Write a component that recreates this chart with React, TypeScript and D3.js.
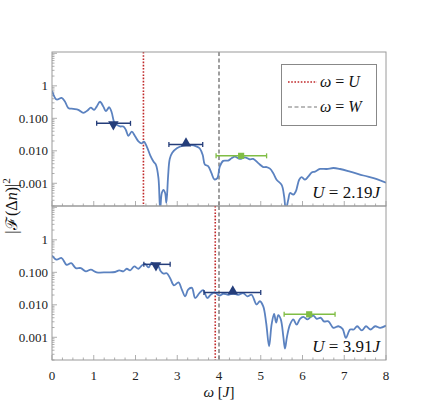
import React, { useEffect, useRef } from "react";
import * as d3 from "d3";

// omega values (in units of J) and log10 |F(dn)|^2
const topOmega = [0, 0.11, 0.23, 0.31, 0.39, 0.51, 0.63, 0.75, 0.85, 0.93, 1.01, 1.07, 1.15, 1.23, 1.29, 1.37, 1.43, 1.49, 1.55, 1.63, 1.71, 1.77, 1.83, 1.91, 1.99, 2.07, 2.15, 2.2, 2.27, 2.35, 2.43, 2.49, 2.55, 2.59, 2.63, 2.67, 2.71, 2.74, 2.78, 2.82, 2.88, 2.99, 3.14, 3.31, 3.47, 3.54, 3.61, 3.66, 3.74, 3.82, 3.89, 3.96, 4.02, 4.1, 4.22, 4.3, 4.38, 4.5, 4.62, 4.73, 4.82, 4.94, 5.06, 5.14, 5.22, 5.3, 5.38, 5.5, 5.56, 5.6, 5.66, 5.7, 5.78, 5.84, 5.92, 5.98, 6.06, 6.14, 6.22, 6.3, 6.42, 6.58, 6.74, 6.9, 7.14, 7.46, 7.78, 8.0];
const topLog = [-0.15, -0.42, -0.37, -0.48, -0.68, -0.71, -0.74, -0.83, -0.76, -0.67, -0.74, -0.64, -0.49, -0.64, -0.78, -0.66, -0.82, -1.12, -1.2, -1.25, -1.25, -1.36, -1.54, -1.41, -1.55, -1.71, -1.77, -1.72, -1.87, -2.13, -2.33, -2.43, -2.84, -3.8, -3.3, -3.2, -3.3, -3.6, -2.8, -2.25, -2.06, -1.92, -1.84, -1.82, -1.87, -1.93, -2.13, -2.42, -2.47, -2.69, -2.88, -2.84, -2.48, -2.31, -2.3, -2.23, -2.18, -2.25, -2.2, -2.26, -2.25, -2.38, -2.5, -2.5, -2.55, -2.69, -2.89, -3.05, -3.4, -3.8, -3.5, -3.3, -3.35, -3.25, -2.89, -2.81, -2.89, -2.79, -2.67, -2.64, -2.56, -2.56, -2.53, -2.56, -2.64, -2.76, -2.87, -2.98];

const bottomOmega = [0, 0.11, 0.23, 0.35, 0.46, 0.57, 0.69, 0.81, 0.93, 1.07, 1.31, 1.51, 1.61, 1.71, 1.79, 1.87, 1.97, 2.07, 2.15, 2.23, 2.31, 2.39, 2.47, 2.55, 2.6, 2.67, 2.75, 2.83, 2.92, 3.03, 3.11, 3.19, 3.26, 3.35, 3.43, 3.53, 3.62, 3.72, 3.8, 3.9, 4.01, 4.1, 4.22, 4.34, 4.46, 4.58, 4.68, 4.78, 4.9, 4.98, 5.06, 5.13, 5.2, 5.26, 5.32, 5.37, 5.42, 5.48, 5.54, 5.58, 5.63, 5.7, 5.78, 5.86, 5.94, 6.02, 6.12, 6.2, 6.26, 6.34, 6.44, 6.51, 6.62, 6.74, 6.86, 6.96, 7.04, 7.14, 7.23, 7.31, 7.42, 7.52, 7.63, 7.74, 7.86, 8.0];
const bottomLog = [-0.48, -0.61, -0.56, -0.77, -0.72, -0.87, -0.87, -0.97, -0.92, -1.0, -1.0, -0.99, -0.94, -0.97, -0.89, -0.94, -0.82, -0.89, -0.79, -0.74, -0.85, -0.7, -0.79, -0.82, -0.96, -1.04, -1.03, -1.18, -1.4, -1.31, -1.53, -1.74, -1.53, -1.48, -1.79, -1.64, -1.55, -1.79, -1.69, -1.62, -1.72, -1.66, -1.69, -1.66, -1.69, -1.64, -1.74, -1.69, -1.99, -1.89, -2.05, -2.56, -3.28, -2.6, -2.28, -2.55, -2.32, -2.45, -2.97, -3.35, -2.97, -2.61, -2.45, -2.61, -2.43, -2.37, -2.45, -2.37, -2.33, -2.43, -2.4, -2.51, -2.51, -2.71, -2.66, -2.74, -3.02, -2.76, -2.76, -2.66, -2.79, -2.66, -2.76, -2.66, -2.71, -2.64];

// markers with horizontal error bars
const topMarkers = [
  { shape: "down", w: 1.47, v: 0.07, lo: 1.07, hi: 1.88 },
  { shape: "up", w: 3.21, v: 0.0157, lo: 2.8, hi: 3.61 },
  { shape: "square", w: 4.53, v: 0.007, lo: 3.93, hi: 5.14 },
];
const bottomMarkers = [
  { shape: "down", w: 2.49, v: 0.176, lo: 2.2, hi: 2.83 },
  { shape: "up", w: 4.33, v: 0.024, lo: 3.64, hi: 5.0 },
  { shape: "square", w: 6.16, v: 0.0051, lo: 5.56, hi: 6.78 },
];

const uValues = [2.19, 3.91];
const wValue = 4.0;
const uLabels = ["2.19", "3.91"];
const yTickVals = [1, 0.1, 0.01, 0.001];
const yTickLabels = ["1", "0.100", "0.010", "0.001"];
const xTickVals = [0, 1, 2, 3, 4, 5, 6, 7, 8];

const BLUE = "#5b82c0";
const NAVY = "#243d7a";
const GREEN = "#80bd45";
const RED = "#c0282a";
const GRAY = "#777";
const FRAME = "#9a9a9a";
const FONT = "'Liberation Serif', 'DejaVu Serif', serif";

export default function App() {
  const ref = useRef<SVGSVGElement>(null);

  useEffect(() => {
    const svg = d3.select(ref.current);
    svg.selectAll("*").remove();

    const left = 52, right = 386;
    const panels = [
      { top: 52, bottom: 206, omega: topOmega, logs: topLog, markers: topMarkers, u: uValues[0], label: uLabels[0] },
      { top: 206, bottom: 360, omega: bottomOmega, logs: bottomLog, markers: bottomMarkers, u: uValues[1], label: uLabels[1] },
    ];

    const x = d3.scaleLinear().domain([0, 8]).range([left, right]);

    panels.forEach((p, i) => {
      const y = d3.scaleLog().domain([2e-4, 11]).range([p.bottom, p.top]);
      const g = svg.append("g");

      g.append("clipPath").attr("id", "clip" + i)
        .append("rect").attr("x", left).attr("y", p.top).attr("width", right - left).attr("height", p.bottom - p.top);

      // y ticks
      const minors: number[] = [];
      for (let e = -4; e <= 1; e++) {
        for (let m = 1; m <= 9; m++) {
          const v = m * Math.pow(10, e);
          if (v >= 2e-4 && v <= 11) minors.push(v);
        }
      }
      minors.forEach(v => {
        const major = Math.abs(Math.log10(v) - Math.round(Math.log10(v))) < 1e-9;
        g.append("line")
          .attr("x1", left).attr("x2", left + (major ? 5 : 2.5))
          .attr("y1", y(v)).attr("y2", y(v))
          .attr("stroke", FRAME).attr("stroke-width", 0.8);
      });
      yTickVals.forEach((v, k) => {
        g.append("text")
          .attr("x", left - 4).attr("y", y(v))
          .attr("text-anchor", "end").attr("dominant-baseline", "central")
          .attr("font-family", FONT).attr("font-size", 13).attr("fill", "#222")
          .text(yTickLabels[k]);
      });

      // x ticks (bottom edge of each panel)
      d3.range(0, 8.001, 0.25).forEach(t => {
        const major = Math.abs(t - Math.round(t)) < 1e-9;
        g.append("line")
          .attr("x1", x(t)).attr("x2", x(t))
          .attr("y1", p.bottom).attr("y2", p.bottom - (major ? 5 : 2.5))
          .attr("stroke", FRAME).attr("stroke-width", 0.8);
      });

      // reference lines
      g.append("line")
        .attr("x1", x(p.u)).attr("x2", x(p.u)).attr("y1", p.top).attr("y2", p.bottom)
        .attr("stroke", RED).attr("stroke-width", 1.6).attr("stroke-dasharray", "1.6,1.6");
      g.append("line")
        .attr("x1", x(wValue)).attr("x2", x(wValue)).attr("y1", p.top).attr("y2", p.bottom)
        .attr("stroke", GRAY).attr("stroke-width", 1.4).attr("stroke-dasharray", "4,2.5");

      // curve
      const pts = p.omega.map((w, k) => [w, Math.pow(10, p.logs[k])] as [number, number]);
      const line = d3.line<[number, number]>()
        .x(d => x(d[0]))
        .y(d => y(d[1]))
        .curve(d3.curveCatmullRom.alpha(0.5));
      g.append("path")
        .datum(pts)
        .attr("d", line)
        .attr("fill", "none")
        .attr("stroke", BLUE)
        .attr("stroke-width", 1.8)
        .attr("clip-path", `url(#clip${i})`);

      // markers with error bars
      p.markers.forEach(m => {
        const col = m.shape === "square" ? GREEN : NAVY;
        const yy = y(m.v);
        g.append("line").attr("x1", x(m.lo)).attr("x2", x(m.hi)).attr("y1", yy).attr("y2", yy)
          .attr("stroke", col).attr("stroke-width", 1.5);
        [m.lo, m.hi].forEach(e => {
          g.append("line").attr("x1", x(e)).attr("x2", x(e)).attr("y1", yy - 2.5).attr("y2", yy + 2.5)
            .attr("stroke", col).attr("stroke-width", 1.3);
        });
        const sym = d3.symbol()
          .type(m.shape === "square" ? d3.symbolSquare : d3.symbolTriangle)
          .size(m.shape === "square" ? 38 : 48);
        g.append("path")
          .attr("d", sym())
          .attr("fill", col)
          .attr("transform", `translate(${x(m.w)},${yy + (m.shape === "down" ? 1 : m.shape === "up" ? -1 : 0)}) rotate(${m.shape === "down" ? 180 : 0})`);
      });

      // frame
      g.append("rect")
        .attr("x", left).attr("y", p.top).attr("width", right - left).attr("height", p.bottom - p.top)
        .attr("fill", "none").attr("stroke", FRAME).attr("stroke-width", 1);

      // U label
      const t = g.append("text")
        .attr("x", right - 6).attr("y", p.bottom - 8)
        .attr("text-anchor", "end")
        .attr("font-family", FONT).attr("font-size", 17).attr("fill", "#111");
      t.append("tspan").attr("font-style", "italic").text("U");
      t.append("tspan").text(" = " + p.label);
      t.append("tspan").attr("font-style", "italic").text("J");
    });

    // x tick labels
    xTickVals.forEach(v => {
      svg.append("text")
        .attr("x", x(v)).attr("y", 380)
        .attr("text-anchor", "middle")
        .attr("font-family", FONT).attr("font-size", 13).attr("fill", "#222")
        .text(String(v));
    });

    // x axis label
    const xl = svg.append("text")
      .attr("x", 219).attr("y", 397)
      .attr("text-anchor", "middle")
      .attr("font-family", FONT).attr("font-size", 15).attr("fill", "#111");
    xl.append("tspan").attr("font-style", "italic").text("ω");
    xl.append("tspan").text(" [");
    xl.append("tspan").attr("font-style", "italic").text("J");
    xl.append("tspan").text("]");

    // y axis label
    const yl = svg.append("text")
      .attr("transform", "translate(17,206) rotate(-90)")
      .attr("text-anchor", "middle")
      .attr("font-family", FONT).attr("font-size", 16).attr("fill", "#111");
    yl.append("tspan").text("|");
    yl.append("tspan").text("ℱ");
    yl.append("tspan").attr("dx", 1.5).text("(Δ");
    yl.append("tspan").attr("font-style", "italic").text("n");
    yl.append("tspan").text(")|");
    yl.append("tspan").attr("font-size", 11).attr("dy", -7).text("2");

    // legend
    const lg = svg.append("g");
    lg.append("rect")
      .attr("x", 281.5).attr("y", 64.5).attr("width", 95).attr("height", 61)
      .attr("fill", "white").attr("stroke", "#888").attr("stroke-width", 1);
    const items = [
      { color: RED, dash: "1.6,1.6", w: 1.3, name: "U" },
      { color: GRAY, dash: "4,2.5", w: 1.2, name: "W" },
    ];
    items.forEach((it, k) => {
      const yy = 82 + k * 25;
      lg.append("line").attr("x1", 288).attr("x2", 317).attr("y1", yy).attr("y2", yy)
        .attr("stroke", it.color).attr("stroke-width", it.w).attr("stroke-dasharray", it.dash);
      const tx = lg.append("text")
        .attr("x", 320).attr("y", yy + 5)
        .attr("font-family", FONT).attr("font-size", 16).attr("fill", "#111");
      tx.append("tspan").attr("font-style", "italic").text("ω");
      tx.append("tspan").text(" = ");
      tx.append("tspan").attr("font-style", "italic").text(it.name);
    });
  }, []);

  return (
    <svg
      ref={ref}
      width={440}
      height={413}
      style={{ position: "absolute", left: 0, top: 0, background: "white" }}
    />
  );
}
